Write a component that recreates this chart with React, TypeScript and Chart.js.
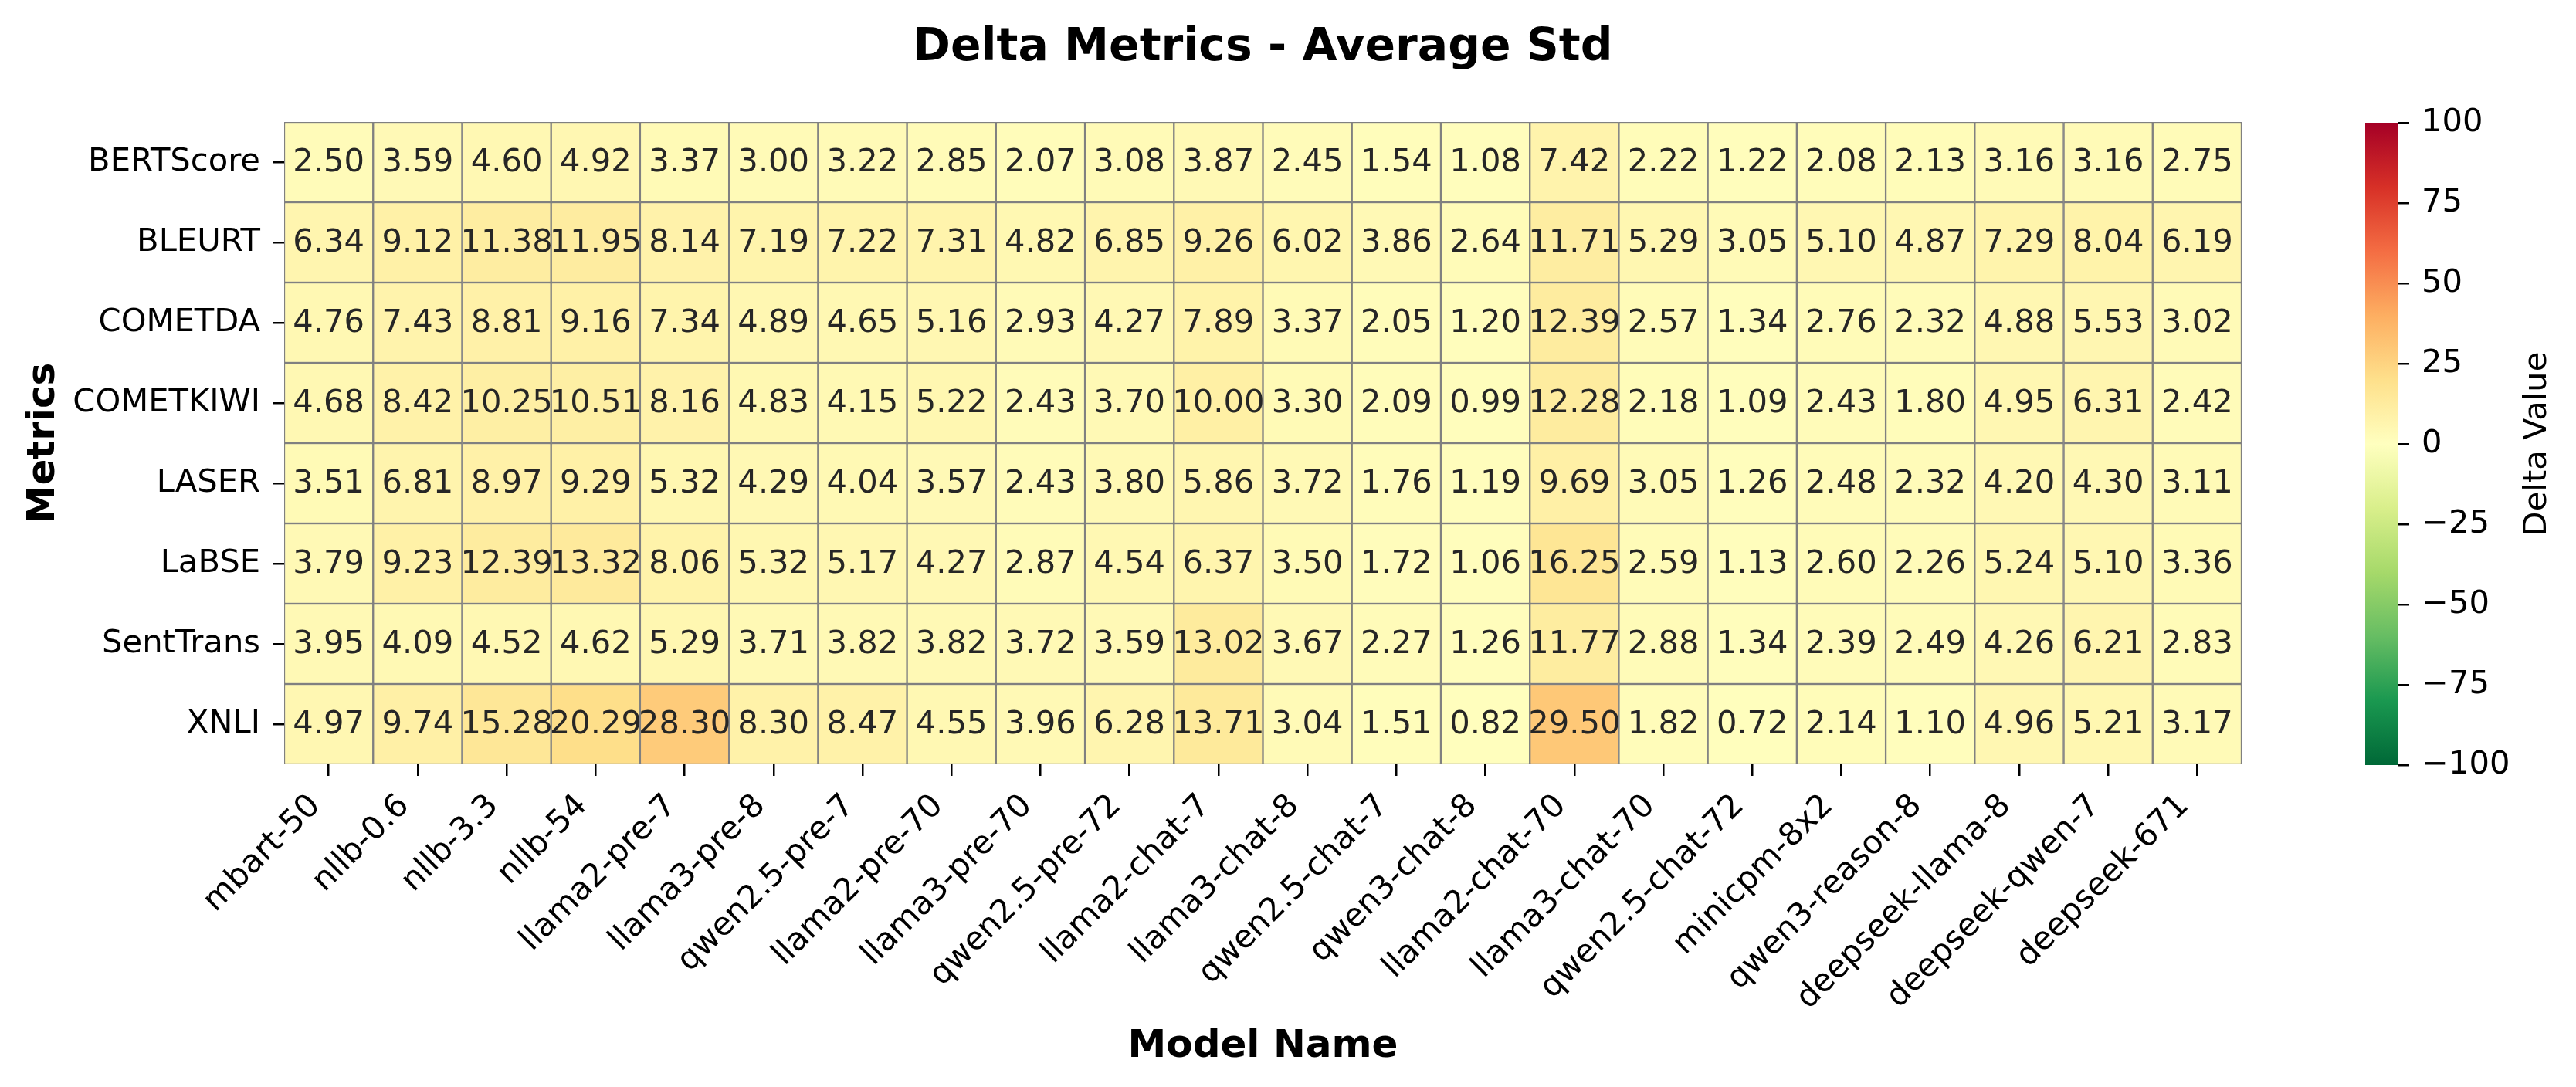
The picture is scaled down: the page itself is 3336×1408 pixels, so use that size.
import React, { useEffect, useRef } from 'react';
import { Chart, registerables } from 'chart.js';

Chart.register(...registerables);

const models = [
  'mbart-50', 'nllb-0.6', 'nllb-3.3', 'nllb-54', 'llama2-pre-7', 'llama3-pre-8',
  'qwen2.5-pre-7', 'llama2-pre-70', 'llama3-pre-70', 'qwen2.5-pre-72', 'llama2-chat-7',
  'llama3-chat-8', 'qwen2.5-chat-7', 'qwen3-chat-8', 'llama2-chat-70', 'llama3-chat-70',
  'qwen2.5-chat-72', 'minicpm-8x2', 'qwen3-reason-8', 'deepseek-llama-8', 'deepseek-qwen-7',
  'deepseek-671',
];

const metrics = ['BERTScore', 'BLEURT', 'COMETDA', 'COMETKIWI', 'LASER', 'LaBSE', 'SentTrans', 'XNLI'];

const bertscore = [2.50, 3.59, 4.60, 4.92, 3.37, 3.00, 3.22, 2.85, 2.07, 3.08, 3.87, 2.45, 1.54, 1.08, 7.42, 2.22, 1.22, 2.08, 2.13, 3.16, 3.16, 2.75];
const bleurt = [6.34, 9.12, 11.38, 11.95, 8.14, 7.19, 7.22, 7.31, 4.82, 6.85, 9.26, 6.02, 3.86, 2.64, 11.71, 5.29, 3.05, 5.10, 4.87, 7.29, 8.04, 6.19];
const cometda = [4.76, 7.43, 8.81, 9.16, 7.34, 4.89, 4.65, 5.16, 2.93, 4.27, 7.89, 3.37, 2.05, 1.20, 12.39, 2.57, 1.34, 2.76, 2.32, 4.88, 5.53, 3.02];
const cometkiwi = [4.68, 8.42, 10.25, 10.51, 8.16, 4.83, 4.15, 5.22, 2.43, 3.70, 10.00, 3.30, 2.09, 0.99, 12.28, 2.18, 1.09, 2.43, 1.80, 4.95, 6.31, 2.42];
const laser = [3.51, 6.81, 8.97, 9.29, 5.32, 4.29, 4.04, 3.57, 2.43, 3.80, 5.86, 3.72, 1.76, 1.19, 9.69, 3.05, 1.26, 2.48, 2.32, 4.20, 4.30, 3.11];
const labse = [3.79, 9.23, 12.39, 13.32, 8.06, 5.32, 5.17, 4.27, 2.87, 4.54, 6.37, 3.50, 1.72, 1.06, 16.25, 2.59, 1.13, 2.60, 2.26, 5.24, 5.10, 3.36];
const senttrans = [3.95, 4.09, 4.52, 4.62, 5.29, 3.71, 3.82, 3.82, 3.72, 3.59, 13.02, 3.67, 2.27, 1.26, 11.77, 2.88, 1.34, 2.39, 2.49, 4.26, 6.21, 2.83];
const xnli = [4.97, 9.74, 15.28, 20.29, 28.30, 8.30, 8.47, 4.55, 3.96, 6.28, 13.71, 3.04, 1.51, 0.82, 29.50, 1.82, 0.72, 2.14, 1.10, 4.96, 5.21, 3.17];

const rows = [bertscore, bleurt, cometda, cometkiwi, laser, labse, senttrans, xnli];

const VMIN = -100;
const VMAX = 100;
const CB_STEP = 25;

// RdYlGn stops (0 -> 1)
const RDYLGN = ['#a50026', '#d73027', '#f46d43', '#fdae61', '#fee08b', '#ffffbf', '#d9ef8b', '#a6d96a', '#66bd63', '#1a9850', '#006837'];

const FONT = '"DejaVu Sans", "Liberation Sans", sans-serif';

function hexToRgb(h: string) {
  return [parseInt(h.slice(1, 3), 16), parseInt(h.slice(3, 5), 16), parseInt(h.slice(5, 7), 16)];
}

function cmap(v: number) {
  const t = (v - VMIN) / (VMAX - VMIN);
  const s = Math.min(1, Math.max(0, 1 - t)) * 10;
  const i = Math.min(9, Math.floor(s));
  const f = s - i;
  const a = hexToRgb(RDYLGN[i]);
  const b = hexToRgb(RDYLGN[i + 1]);
  const c = a.map((av, k) => Math.round(av + (b[k] - av) * f));
  return `rgb(${c[0]},${c[1]},${c[2]})`;
}

const annotPlugin = {
  id: 'annot',
  afterDatasetsDraw(chart: any) {
    const { ctx } = chart;
    const x = chart.scales.x;
    const y = chart.scales.y;
    ctx.save();
    ctx.font = `41.67px ${FONT}`;
    ctx.fillStyle = '#262626';
    ctx.textAlign = 'center';
    ctx.textBaseline = 'middle';
    rows.forEach((row, i) => {
      row.forEach((v, j) => {
        ctx.fillText(v.toFixed(2), x.getPixelForValue(j), y.getPixelForValue(i + 0.5) + 1);
      });
    });
    ctx.restore();
  },
};

const cbLabelPlugin = {
  id: 'cblabel',
  afterDraw(chart: any) {
    const { ctx, chartArea } = chart;
    ctx.save();
    ctx.font = `41.67px ${FONT}`;
    ctx.fillStyle = '#000';
    ctx.textAlign = 'center';
    ctx.textBaseline = 'alphabetic';
    ctx.translate(297, (chartArea.top + chartArea.bottom) / 2);
    ctx.rotate(-Math.PI / 2);
    ctx.fillText('Delta Value', 0, 0);
    ctx.restore();
  },
};

export default function App() {
  const mainRef = useRef<HTMLCanvasElement>(null);
  const cbRef = useRef<HTMLCanvasElement>(null);

  useEffect(() => {
    const tickFont = { family: FONT, size: 41.67 };
    const main = new Chart(mainRef.current!, {
      type: 'bar',
      data: {
        labels: models,
        datasets: rows.map((row, i) => ({
          label: metrics[i],
          data: row.map(() => [i, i + 1]),
          backgroundColor: row.map(cmap),
          borderColor: '#808080',
          borderWidth: 1.5,
          borderSkipped: false,
          barPercentage: 1,
          categoryPercentage: 1,
          grouped: false,
        })),
      } as any,
      options: {
        animation: false,
        responsive: false,
        devicePixelRatio: 1,
        events: [],
        layout: { padding: { left: 0, right: 433, top: 0, bottom: 0 } },
        plugins: {
          legend: { display: false },
          tooltip: { enabled: false },
          title: {
            display: true,
            text: 'Delta Metrics - Average Std',
            color: '#000',
            fullSize: false,
            font: { family: FONT, size: 58.33, weight: 'bold' },
            padding: { top: 28, bottom: 60 },
          },
        },
        scales: {
          x: {
            type: 'category',
            offset: true,
            grid: {
              display: true, offset: false, drawOnChartArea: false, drawTicks: true,
              tickLength: 15, color: '#000', lineWidth: 2.5,
            },
            border: { display: false },
            ticks: {
              autoSkip: false, minRotation: 45, maxRotation: 45, padding: 14.6,
              labelOffset: -17, color: '#000', font: tickFont,
            },
            title: {
              display: true, text: 'Model Name', color: '#000',
              font: { family: FONT, size: 50, weight: 'bold' },
              padding: { top: 0, bottom: 22.3 },
            },
            afterFit: (s: any) => { s.height = 418; },
          },
          y: {
            type: 'linear',
            min: 0,
            max: metrics.length,
            reverse: true,
            afterBuildTicks: (s: any) => { s.ticks = metrics.map((_, i) => ({ value: i + 0.5 })); },
            ticks: {
              callback: (_v: any, idx: number) => metrics[idx],
              padding: 16, color: '#000', font: tickFont,
            },
            grid: {
              display: true, drawOnChartArea: false, drawTicks: true,
              tickLength: 15, color: '#000', lineWidth: 2.5,
            },
            border: { display: false },
            title: {
              display: true, text: 'Metrics', color: '#000',
              font: { family: FONT, size: 50, weight: 'bold' },
              padding: { top: 26.7, bottom: 0 },
            },
            afterFit: (s: any) => { s.width = 368; },
          },
        },
      } as any,
      plugins: [annotPlugin],
    });

    const cb = new Chart(cbRef.current!, {
      type: 'bar',
      data: {
        labels: ['cb'],
        datasets: [{
          data: [[VMIN, VMAX]],
          borderWidth: 0,
          barPercentage: 1,
          categoryPercentage: 1,
          backgroundColor: (c: any) => {
            const chart = c.chart;
            const ys = chart.scales && chart.scales.y;
            if (!chart.chartArea || !ys) return RDYLGN[5];
            const g = chart.ctx.createLinearGradient(0, ys.getPixelForValue(VMIN), 0, ys.getPixelForValue(VMAX));
            RDYLGN.forEach((_, k) => g.addColorStop(k / 10, RDYLGN[10 - k]));
            return g;
          },
        }],
      } as any,
      options: {
        animation: false,
        responsive: false,
        devicePixelRatio: 1,
        events: [],
        layout: { padding: { left: 63, right: 0, top: 159, bottom: 417 } },
        plugins: { legend: { display: false }, tooltip: { enabled: false } },
        scales: {
          x: { display: false, offset: true },
          y: {
            position: 'right',
            min: VMIN,
            max: VMAX,
            ticks: {
              stepSize: CB_STEP,
              padding: 16,
              color: '#000',
              font: tickFont,
              callback: (v: any) => (v < 0 ? '\u2212' + Math.abs(v) : String(v)),
            },
            grid: {
              display: true, drawOnChartArea: false, drawTicks: true,
              tickLength: 15, color: '#000', lineWidth: 2.5,
            },
            border: { display: false },
            afterFit: (s: any) => { s.width = 231; },
          },
        },
      } as any,
      plugins: [cbLabelPlugin],
    });

    return () => {
      main.destroy();
      cb.destroy();
    };
  }, []);

  return (
    <div style={{ position: 'absolute', left: 0, top: 0, width: 3336, height: 1408, background: '#fff' }}>
      <canvas ref={mainRef} width={3336} height={1408}
        style={{ position: 'absolute', left: 0, top: 0, width: 3336, height: 1408 }} />
      <canvas ref={cbRef} width={336} height={1408}
        style={{ position: 'absolute', left: 3000, top: 0, width: 336, height: 1408 }} />
    </div>
  );
}
